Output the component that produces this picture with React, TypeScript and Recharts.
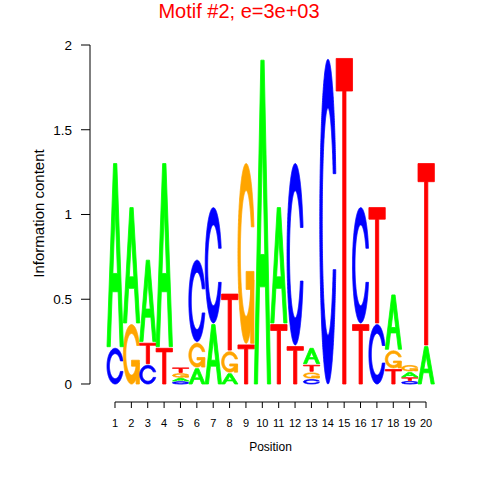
import React from "react";
import { Bar, BarChart, ReferenceLine, XAxis, YAxis } from "recharts";

// information content per nucleotide (positions 1..20)
const positions = [1, 2, 3, 4, 5, 6, 7, 8, 9, 10, 11, 12, 13, 14, 15, 16, 17, 18, 19, 20];
const icA = [1.09, 0.69, 0.49, 1.09, 0.022, 0.1, 0.36, 0.07, 0, 1.92, 0.69, 0, 0.1, 0, 0, 0, 0, 0.33, 0.035, 0.23];
const icC = [0.22, 0, 0.12, 0, 0.018, 0.49, 0.69, 0, 0, 0, 0, 1.08, 0.035, 1.925, 0, 0.69, 0.36, 0, 0.02, 0];
const icG = [0, 0.36, 0, 0, 0.028, 0.15, 0, 0.13, 1.07, 0, 0, 0, 0.04, 0, 0, 0, 0, 0.11, 0.042, 0];
const icT = [0, 0, 0.13, 0.22, 0.036, 0, 0, 0.34, 0.24, 0, 0.36, 0.23, 0.045, 0, 1.93, 0.36, 0.69, 0.095, 0.022, 1.08];
const yTicks = [0, 0.5, 1, 1.5, 2];

const FONT = '"Liberation Sans", Arial, Helvetica, sans-serif';
const COLORS: Record<string, string> = { A: "#00ff00", C: "#0000ff", G: "#ffa500", T: "#ff0000" };

const X_MIN = -0.527;
const X_MAX = 21.527;
const Y_MIN = -0.1062;
const Y_MAX = 2;
const PLOT_LEFT = 90;
const PLOT_RIGHT = 451;
const LETTER_W = (PLOT_RIGHT - PLOT_LEFT) / (X_MAX - X_MIN);

// stack letters smallest at the bottom, like seqLogo does
const rows = positions.map((pos, i) => {
  const col = [
    { l: "A", h: icA[i] },
    { l: "C", h: icC[i] },
    { l: "G", h: icG[i] },
    { l: "T", h: icT[i] },
  ]
    .filter((d) => d.h > 0)
    .sort((a, b) => a.h - b.h);
  const row: Record<string, number | string> = { pos };
  for (let k = 0; k < 4; k++) {
    row[`h${k}`] = col[k] ? col[k].h : 0;
    row[`l${k}`] = col[k] ? col[k].l : "";
  }
  return row;
});

// unit-square letter outlines (y up), same construction as seqLogo
const linspace = (a: number, b: number, n: number) =>
  Array.from({ length: n }, (_, i) => a + ((b - a) * i) / (n - 1));

function buildC(): [number, number][] {
  const a1 = linspace(0.3 + Math.PI / 2, Math.PI, 100);
  const a2 = linspace(Math.PI, 1.5 * Math.PI, 100);
  const xl = [...a1.map((a) => 0.5 + 0.5 * Math.sin(a)), ...a2.map((a) => 0.5 + 0.5 * Math.sin(a))];
  const yl1 = a1.map((a) => 0.5 + 0.5 * Math.cos(a));
  const yl = [...yl1, ...a2.map((a) => 0.5 + 0.5 * Math.cos(a))];
  const ox = [...xl, ...[...xl].reverse()];
  const oy = [...yl, ...[...yl].reverse().map((v) => 1 - v)];
  const top = Math.max(...yl1);
  let xi1 = a1.map((a) => 0.5 + 0.35 * Math.sin(a));
  let yi1 = a1.map((a) => 0.5 + 0.35 * Math.cos(a));
  const keep = yi1.map((v) => v <= top);
  xi1 = xi1.filter((_, i) => keep[i]);
  yi1 = yi1.filter((_, i) => keep[i]);
  yi1[0] = top;
  const xi = [...xi1, ...a2.map((a) => 0.5 + 0.35 * Math.sin(a))];
  const yi = [...yi1, ...a2.map((a) => 0.5 + 0.35 * Math.cos(a))];
  const ix = [...xi, ...[...xi].reverse()];
  const iy = [...yi, ...[...yi].reverse().map((v) => 1 - v)];
  const x = [...ox, ...[...ix].reverse()];
  const y = [...oy, ...[...iy].reverse()];
  return x.map((v, i) => [v, y[i]]);
}

const R1 = 0.5 + 0.5 * Math.cos(0.3);
const SHAPES: Record<string, [number, number][][]> = {
  A: [
    [[0, 0], [0.4, 1], [0.6, 1], [1, 0], [0.8, 0], [0.68, 0.3], [0.32, 0.3], [0.2, 0]],
    [[0.36, 0.4], [0.5, 0.75], [0.64, 0.4]],
  ],
  C: [buildC()],
  G: [buildC(), [[R1, 0.4], [0.5, 0.4], [0.5, 0.3], [R1 - 0.2, 0.3], [R1 - 0.2, 0], [R1, 0], [R1, 0.4]]],
  T: [[[0, 1], [1, 1], [1, 0.9], [0.6, 0.9], [0.6, 0], [0.4, 0], [0.4, 0.9], [0, 0.9]]],
};

function toPath(pts: [number, number][], x: number, y: number, w: number, h: number) {
  return (
    pts.map(([u, v], i) => `${i ? "L" : "M"}${(x + u * w).toFixed(2)},${(y + (1 - v) * h).toFixed(2)}`).join("") + "Z"
  );
}

function LetterShape(props: any) {
  const { x, y, width, height, payload, slot } = props;
  const ch = payload ? payload[`l${slot}`] : "";
  if (!ch || !(height > 0.3)) return null;
  const gap = Math.min(1.6, height * 0.25);
  const cx = x + width / 2;
  const lx = cx - LETTER_W / 2;
  const top = y + gap;
  const h = height - gap;
  const color = COLORS[ch];
  const parts = SHAPES[ch];
  if (ch === "A") {
    const d = parts.map((p) => toPath(p, lx, top, LETTER_W, h)).join("");
    return <path d={d} fill={color} fillRule="evenodd" stroke={color} strokeWidth={0.8} />;
  }
  return (
    <g>
      {parts.map((p, i) => (
        <path key={i} d={toPath(p, lx, top, LETTER_W, h)} fill={color} stroke={color} strokeWidth={0.8} />
      ))}
    </g>
  );
}

function XTick(props: any) {
  const { x, payload } = props;
  return (
    <text x={x} y={427} textAnchor="middle" fontSize={11} fontFamily={FONT} fill="#000">
      {payload.value}
    </text>
  );
}

function YTick(props: any) {
  const { y, payload } = props;
  return (
    <text x={72} y={y + 4.8} textAnchor="end" fontSize={13.5} fontFamily={FONT} fill="#000">
      {payload.value}
    </text>
  );
}

function YLabel() {
  return (
    <text x={44} y={213.5} transform="rotate(-90 44 213.5)" textAnchor="middle" fontSize={15} fontFamily={FONT} fill="#000">
      Information content
    </text>
  );
}

function XLabel() {
  return (
    <text x={270.5} y={451} textAnchor="middle" fontSize={12} fontFamily={FONT} fill="#000">
      Position
    </text>
  );
}

export default function App() {
  return (
    <div style={{ position: "absolute", left: 0, top: 0, width: 480, height: 480, background: "#fff" }}>
      <div
        style={{
          position: "absolute",
          top: 0,
          left: 0,
          width: 478,
          textAlign: "center",
          fontFamily: FONT,
          fontSize: 20,
          lineHeight: "normal",
          color: "#ff0000",
        }}
      >
        Motif #2; e=3e+03
      </div>
      <BarChart
        width={480}
        height={480}
        data={rows}
        margin={{ top: 45, right: 480 - PLOT_RIGHT, bottom: 0, left: 0 }}
        barCategoryGap={0}
        barGap={0}
      >
        <XAxis
          dataKey="pos"
          type="number"
          domain={[X_MIN, X_MAX]}
          allowDataOverflow
          ticks={positions}
          interval={0}
          height={78}
          axisLine={false}
          tickLine={{ stroke: "#000" }}
          tickSize={6}
          tick={<XTick />}
          label={<XLabel />}
        />
        <YAxis
          type="number"
          domain={[Y_MIN, Y_MAX]}
          allowDataOverflow
          ticks={yTicks}
          interval={0}
          width={PLOT_LEFT}
          axisLine={false}
          tickLine={{ stroke: "#000" }}
          tickSize={9}
          tick={<YTick />}
          label={<YLabel />}
        />
        {[0, 1, 2, 3].map((k) => (
          <Bar
            key={k}
            dataKey={`h${k}`}
            stackId="logo"
            barSize={LETTER_W}
            isAnimationActive={false}
            shape={(p: any) => <LetterShape {...p} slot={k} />}
          />
        ))}
        <ReferenceLine
          segment={[
            { x: 1, y: Y_MIN },
            { x: 20, y: Y_MIN },
          ]}
          stroke="#000"
          ifOverflow="visible"
        />
        <ReferenceLine
          segment={[
            { x: X_MIN, y: 0 },
            { x: X_MIN, y: 2 },
          ]}
          stroke="#000"
          ifOverflow="visible"
        />
      </BarChart>
    </div>
  );
}
